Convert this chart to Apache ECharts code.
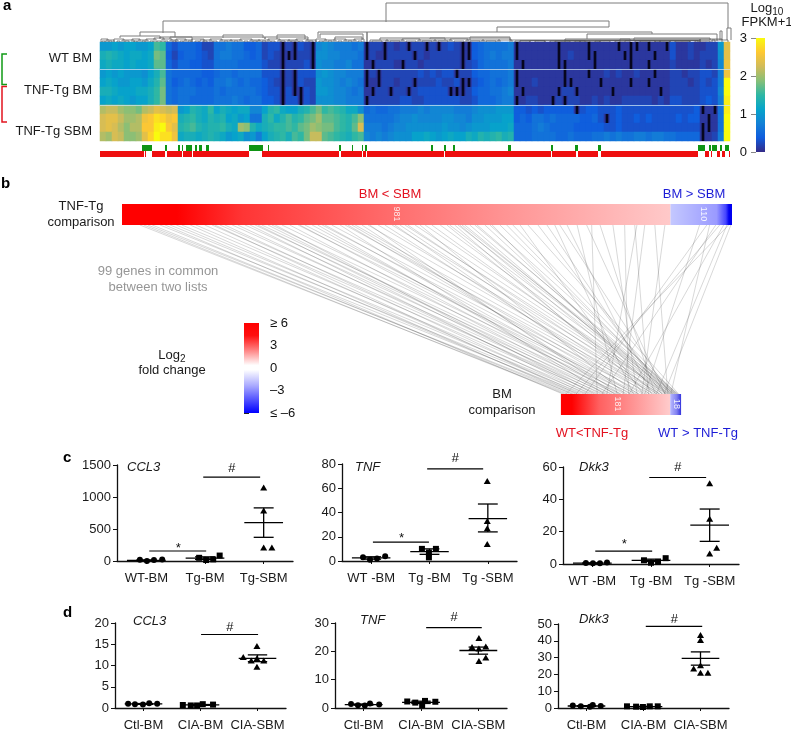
<!DOCTYPE html>
<html><head><meta charset="utf-8">
<style>html,body{margin:0;padding:0;background:#fff}#c{width:791px;height:732px}</style>
<script src="https://cdn.jsdelivr.net/npm/echarts@6/dist/echarts.min.js"></script>
</head><body><div id="c"></div>
<script>
// ---------- a: heat map values, tenths of log10(FPKM+1); -1 = no expression (black) ----------
const heatRow0=[10,10,11,10,11,11,10,10,11,16,15,5,3,5,5,5,4,2,2,6,6,7,6,6,4,4,5,2,3,3,-1,2,-1,3,2,-1,8,9,8,7,7,7,6,7,-1,2,2,-1,2,1,2,-1,2,2,-1,2,-1,2,3,2,-1,-1,4,5,6,6,6,6,7,-1,1,1,1,1,1,1,-1,1,1,1,1,-1,1,1,1,1,-1,1,-1,-1,1,-1,1,1,-1,3,1,1,2,1,1,2,2,10,24];
const heatRow1=[13,14,13,12,11,12,12,11,12,18,17,4,2,4,5,5,4,3,2,6,7,7,6,6,5,4,5,2,3,2,-1,-1,-1,2,2,-1,9,9,8,8,7,7,7,6,-1,2,1,-1,2,2,2,2,-1,2,1,2,2,2,2,2,-1,-1,4,5,6,7,6,7,7,-1,1,1,1,1,1,1,-1,1,2,1,1,-1,-1,1,1,1,1,-1,-1,1,1,1,-1,1,1,3,1,1,2,1,2,2,2,9,24];
const heatRow2=[12,13,12,12,11,12,11,11,12,17,17,5,3,5,5,4,4,3,3,6,6,6,6,5,5,5,5,3,2,2,-1,2,2,2,3,-1,9,8,8,7,7,8,6,6,1,-1,2,2,2,1,-1,2,2,1,2,2,2,2,2,2,-1,2,3,5,6,6,6,6,7,1,-1,1,1,1,1,1,-1,-1,1,1,1,1,-1,1,1,1,1,1,-1,1,1,-1,1,1,1,2,1,1,1,1,2,1,2,8,25];
const heatRow3=[10,11,10,11,10,10,10,9,11,13,16,6,5,5,5,5,5,4,4,5,6,6,5,6,6,6,6,3,3,3,-1,2,-1,3,3,3,9,10,9,8,8,7,7,7,-1,2,-1,2,2,2,2,2,2,3,2,3,2,3,3,-1,2,2,4,5,5,6,6,6,7,-1,1,1,1,1,1,1,1,-1,1,1,1,-1,1,1,2,1,2,1,1,2,1,1,-1,1,1,2,2,1,2,2,3,3,2,7,25];
const heatRow4=[11,12,11,10,10,11,11,10,12,14,17,6,4,5,6,5,4,5,4,6,6,7,6,5,6,5,5,4,3,2,-1,2,-1,3,2,2,10,9,9,8,7,8,7,6,-1,1,-1,2,2,1,2,2,-1,2,2,2,3,2,2,3,-1,-1,3,4,5,6,5,6,7,-1,1,1,2,1,1,1,1,-1,-1,1,1,1,1,-1,1,1,1,1,-1,1,1,-1,1,1,1,2,2,2,1,2,3,2,3,7,30];
const heatRow5=[13,13,12,11,11,11,12,12,13,15,18,6,5,6,6,6,5,5,5,6,5,6,6,6,6,6,5,4,3,3,-1,3,-1,-1,3,2,10,10,9,8,8,7,6,7,1,-1,2,2,-1,2,2,-1,2,3,3,3,3,3,-1,-1,-1,2,4,5,5,6,6,7,8,1,-1,1,1,1,1,1,-1,2,2,-1,1,1,1,1,1,-1,1,1,1,1,1,1,1,-1,1,2,2,2,2,2,3,3,3,8,30];
const heatRow6=[11,12,11,12,11,10,11,11,13,15,18,6,5,6,6,5,5,5,5,6,6,6,7,6,5,6,6,4,4,3,-1,3,3,-1,3,2,9,9,9,8,8,7,7,7,-1,2,2,2,2,2,3,3,2,2,3,3,3,3,3,3,2,2,3,5,5,5,6,7,7,-1,1,2,2,1,1,-1,2,-1,2,2,1,1,2,1,2,1,1,2,2,2,2,2,1,2,1,3,3,2,2,2,3,4,3,7,29];
const heatRow7=[21,22,22,20,19,19,18,21,22,24,23,22,23,10,11,14,13,12,15,11,13,12,11,12,12,8,8,11,14,15,12,11,11,13,14,16,18,15,16,15,14,12,12,9,5,6,5,5,6,6,7,7,7,8,7,8,8,8,8,7,7,7,8,9,9,9,10,10,10,4,4,3,4,3,4,4,4,4,4,-1,3,4,4,3,3,3,4,3,3,3,3,3,3,3,3,3,3,3,3,4,-1,1,-1,6,29];
const heatRow8=[23,24,24,22,20,20,21,25,26,28,27,25,26,13,14,15,13,12,14,13,14,11,12,10,11,6,6,13,15,12,14,16,14,15,17,18,20,17,17,16,15,14,16,19,6,6,6,6,6,7,8,8,9,8,8,8,8,9,9,8,8,7,9,9,10,10,10,11,11,4,5,4,6,6,5,6,5,5,5,5,4,4,5,3,-1,3,4,3,3,4,3,4,3,3,3,3,4,3,4,4,1,-1,1,6,30];
const heatRow9=[23,24,23,21,19,21,21,26,26,29,30,26,24,14,15,16,14,13,14,14,15,13,12,20,19,14,12,13,14,15,15,16,15,17,18,20,19,18,18,16,15,14,17,23,7,7,7,6,7,8,8,9,9,9,9,9,9,10,9,9,8,9,10,10,10,11,11,11,12,5,5,5,6,7,6,5,5,5,5,4,4,4,4,4,3,3,4,3,3,3,3,3,3,3,3,3,3,3,3,3,-1,-1,1,6,30];
const heatRow10=[21,20,23,22,19,19,20,24,27,30,28,28,25,12,13,13,12,13,14,13,12,10,11,12,9,10,7,11,13,14,15,13,16,15,18,22,22,17,16,15,14,13,15,16,8,7,8,7,8,9,9,9,11,11,12,11,10,11,12,11,11,13,12,14,13,14,15,13,14,5,5,5,6,6,6,6,5,5,6,5,5,5,6,6,7,6,7,6,6,7,7,6,7,7,6,6,5,5,5,5,-1,1,2,7,30];
const heatRows=[heatRow0,heatRow1,heatRow2,heatRow3,heatRow4,heatRow5,heatRow6,heatRow7,heatRow8,heatRow9,heatRow10];
const parula=['#352A87','#0F5CDD','#1481D6','#06A4CA','#2EB7A4','#87BF77','#D1BB59','#FEC832','#F9FB0E'];
// dendrogram merges: [x1, x2, height, left leg end, right leg end] on the gene axis
const dendroMain=[[286,628,39,20,14],[63,509,21,9,15],[397,509,15,10,15],[218,552,10,4,8],[267,267,10,0,0],[487,617,8,3,1],[620,622,11,2,2],[627,631,14,2,2],[40,75,10,6,5],[20,60,6,4,3],[60,92,5,4,2],[123,163,7,4,4],[177,205,7,3,3],[165,208,5,3,3],[70,165,5,3,3],[220,263,8,4,3],[235,262,5,3,2],[280,345,4,2,2],[330,410,4,3,2],[370,410,5,2,2],[534,610,4,2,2],[465,530,3,1,1],[520,600,3,1,1]];
const dendroFringe=[[1,8,3],[6,14,2],[14,24,3],[22,34,2],[32,40,3],[38,48,2],[46,56,3],[54,64,4],[62,72,3],[70,78,2],[76,86,3],[84,92,2],[92,104,3],[100,112,2],[110,122,3],[120,132,2],[130,142,2],[140,152,3],[150,160,2],[158,170,2],[168,180,3],[178,190,2],[188,198,2],[196,208,3],[206,216,2],[216,226,3],[224,236,2],[234,246,3],[244,256,2],[254,264,3],[270,288,2],[286,304,2],[302,320,3],[318,336,2],[334,352,2],[350,368,3],[366,384,2],[382,400,2],[398,412,2],[410,480,2],[480,560,2],[560,615,2],[430,520,1.5],[500,600,1.5],[540,590,1],[450,500,1],[600,622,3],[612,628,2],
 [2,5,1],[9,12,1],[17,20,1],[25,29,1],[34,37,1],[42,45,1],[50,53,1],[57,61,1],[65,68,1],[73,76,1],[80,83,1],[88,91,1],[95,99,1],[103,107,1],[113,117,1],[124,128,1],[134,138,1],[144,148,1],[153,157,1],[162,166,1],[171,175,1],[181,185,1],[191,195,1],[199,203,1],[209,213,1],[219,223,1],[228,232,1],[238,242,1],[248,252,1],[258,262,1],
 [272,282,1],[290,300,1],[306,316,1],[322,332,1],[338,348,1],[354,364,1],[370,380,1],[386,396,1],[415,430,1],[435,445,1],[455,470,1],[475,490,1],[495,510,1],[515,530,1],[535,550,1],[555,570,1],[575,590,1],[595,610,1],[420,445,1.5],[465,485,1.5],[525,555,1.5],[570,598,1.5]];
// gene annotation strips on the same gene axis
const geneGreen=[[42,52],[65,67],[78,80],[82,83],[86,92],[95,97],[99,102],[106,109],[149,163],[168,169],[239,241],[252,253],[262,263],[265,267],[331,333],[344,346],[353,355],[408,411],[451,453],[475,478],[498,501],[598,605],[609,611],[612,617],[620,622],[625,629]];
const geneRed=[[0,44],[45,46],[52,65],[67,82],[83,92],[93,149],[162,239],[241,262],[263,266],[267,344],[345,451],[452,476],[478,498],[501,598],[605,609],[611,612],[617,620],[622,625],[629,630]];
// ---------- b ----------
const tnfCounts=[981,110];
const bmCounts=[181,18];
const linkTop=[32,39,46,54,68,77,86,97,107,122,132,148,161,166,175,184,197,207,220,229,238,243,250,261,268,274,286,300,315,318,327,340,350,358,363,375,390,399,404,411,417,429,440,443,458,470,483,488,497,506,511,524,533,542,554,569,581,586,595,601,604,608,613,622,631,635,649,658,662,676,688,699,712,726,744,760,774,783,796,814,831,840,855,878,899,917,921,935,953,971,1033,1046,1051,1062,1069,1076,1082,1085,1089];
const linkBottom=[10,6,20,14,30,3,38,24,45,18,52,33,62,27,70,41,78,58,85,48,92,66,100,74,110,55,118,82,125,96,130,105,90,140,115,148,72,155,122,135,160,98,165,88,170,143,176,128,152,179,163,181,107,184,173,186,158,188,146,190,168,192,183,175,194,187,178,193,162,189,185,191,136,195,174,167,120,180,150,93,172,60,156,126,112,145,76,103,177,134,139,40,182,68,25,113,158,8,171];
const foldTicks={6:'≥ 6',3:'3',0:'0','-3':'–3','-6':'≤ –6'};
// ---------- c, d: points are [x in category bands, value] ----------
const c1Ctl=[[.39,20],[.51,0],[.63,15],[.77,25]], c1Tg=[[1.40,50],[1.52,15],[1.64,25],[1.75,85]], c1Sbm=[[2.5,1150],[2.5,790],[2.5,210],[2.64,210]];
const c1Mean=[10,45,600], c1Low=[3,25,370], c1High=[17,65,830];
const c2Ctl=[[.36,3],[.48,1],[.60,2],[.74,4]], c2Tg=[[1.37,10],[1.49,7],[1.49,3],[1.61,10]], c2Sbm=[[2.49,66],[2.49,33],[2.49,27],[2.49,14]];
const c2Mean=[2.5,7.7,35], c2Low=[1.5,5.5,24], c2High=[3.5,10,47];
const c3Ctl=[[.39,.6],[.51,.4],[.63,.4],[.75,.9]], c3Tg=[[1.38,2.3],[1.50,.8],[1.62,1.3],[1.75,3.6]], c3Sbm=[[2.5,50],[2.5,28],[2.5,6.5],[2.62,10]];
const c3Mean=[.5,2.3,24], c3Low=[.3,1.5,14], c3High=[.7,3,34];
const d1Ctl=[[.23,1],[.35,.9],[.49,.8],[.60,1.1],[.74,1]], d1Tg=[[1.19,.7],[1.33,.6],[1.44,.6],[1.54,.9],[1.72,.8]], d1Sbm=[[2.49,14.6],[2.25,12],[2.39,11.2],[2.61,11.2],[2.49,11.7],[2.49,9.7]];
const d1Mean=[.95,.72,11.7], d1Low=[.85,.62,10.9], d1High=[1.05,.82,12.5];
const d2Ctl=[[.28,1.4],[.40,1],[.52,.9],[.61,1.6],[.77,1.2]], d2Tg=[[1.26,2.3],[1.40,1.9],[1.52,1],[1.57,2.5],[1.75,2.2]], d2Sbm=[[2.51,24.7],[2.39,21.5],[2.63,21.7],[2.51,21],[2.63,17.8],[2.51,16.6]];
const d2Mean=[1.2,2,20.3], d2Low=[1,1.6,19], d2High=[1.4,2.4,21.5];
const d3Ctl=[[.26,1.5],[.40,1],[.56,.8],[.61,1.8],[.75,1.2]], d3Tg=[[1.21,1],[1.37,.8],[1.49,.6],[1.61,1],[1.75,1]], d3Sbm=[[2.5,43.4],[2.5,40.5],[2.5,25.5],[2.38,23.5],[2.5,21],[2.63,21]];
const d3Mean=[1.2,.85,29.5], d3Low=[1,.7,25.5], d3High=[1.4,1,33.4];
// significance: [band from, band to, value of bar, value of mark], with the mark
const c1Sig=[[1.47,2.44,1312,1453,'#'],[.55,1.52,156,190,'*']];
const c2Sig=[[1.46,2.42,76,85,'#'],[.53,1.49,15.5,19,'*']];
const c3Sig=[[1.47,2.44,53.5,60,'#'],[.55,1.52,8,12,'*']];
const d1Sig=[[1.51,2.51,17.3,19,'#']];
const d2Sig=[[1.59,2.56,28.4,32,'#']];
const d3Sig=[[1.54,2.53,48.6,52.5,'#']];
const cLabels=['WT-BM','Tg-BM','Tg-SBM'], cLabelsSp=['WT -BM','Tg -BM','Tg -SBM'], dLabels=['Ctl-BM','CIA-BM','CIA-SBM'];

const FONT='"Liberation Sans",Arial,Helvetica,sans-serif';
const grids=[],xAxes=[],yAxes=[],series=[];
function grid(left,top,width,height){grids.push({left,top,width,height,containLabel:false});return grids.length-1;}
function hiddenVal(g,min,max){return {type:'value',gridIndex:g,min,max,show:false};}
function addX(a){xAxes.push(a);return xAxes.length-1;}
function addY(a){yAxes.push(a);return yAxes.length-1;}
const lin=(x,y,x2,y2,stops)=>new echarts.graphic.LinearGradient(x,y,x2,y2,stops.map((c,i)=>typeof c==='string'?{offset:i/(stops.length-1),color:c}:{offset:c[0],color:c[1]}));

// a heat map
const gHeat=grid(100,42,630,99);
const xHeat=addX({type:'category',gridIndex:gHeat,show:false,data:heatRow0.map((_,i)=>i)});
const yHeat=addY({type:'category',gridIndex:gHeat,show:false,inverse:true,data:heatRows.map((_,i)=>i)});
const heatCells=[],blackCells=[];
heatRows.forEach((r,y)=>r.forEach((v,x)=>{heatCells.push([x,y,v<0?.1:v/10]);if(v<0)blackCells.push([x,y]);}));
series.push({type:'heatmap',xAxisIndex:xHeat,yAxisIndex:yHeat,data:heatCells,silent:true,progressive:0,emphasis:{disabled:true}});
series.push({type:'custom',xAxisIndex:xHeat,yAxisIndex:yHeat,data:blackCells,silent:true,
 renderItem:(p,api)=>{const c=api.coord([api.value(0),api.value(1)]),s=api.size([1,1]);const w=s[0]*.45;
  return {type:'rect',shape:{x:c[0]-w/2,y:c[1]-s[1]/2,width:w,height:s[1]},style:{fill:'#06061e'}};}});

// a dendrogram
const gDen=grid(100,2,630,40);
const xDen=addX(hiddenVal(gDen,0,630)), yDen=addY(hiddenVal(gDen,0,40));
function dendro(data,color,width){
 series.push({type:'custom',xAxisIndex:xDen,yAxisIndex:yDen,silent:true,clip:false,data,
  renderItem:(p,api)=>{const x1=api.value(0),x2=api.value(1),h=api.value(2),l=api.value(3)||0,r=api.value(4)||0;
   return {type:'polyline',shape:{points:[api.coord([x1,l]),api.coord([x1,h]),api.coord([x2,h]),api.coord([x2,r])]},style:{stroke:color,lineWidth:width,fill:null}};}});
}
dendro(dendroMain,'#7d7d7d',1);
dendro(dendroFringe,'#555',.7);

// a annotation strips
const gStrip=grid(100,145,630,12);
const xStrip=addX(hiddenVal(gStrip,0,630));
const yStrip=addY({type:'category',gridIndex:gStrip,show:false,inverse:true,data:['green','red']});
function strip(data,row,color){
 series.push({type:'custom',xAxisIndex:xStrip,yAxisIndex:yStrip,silent:true,data,
  renderItem:(p,api)=>{const a=api.coord([api.value(0),row]),b=api.coord([api.value(1),row]),s=api.size([0,1]);
   return {type:'rect',shape:{x:a[0],y:a[1]-s[1]/2,width:b[0]-a[0],height:s[1]},style:{fill:color}};}});
}
strip(geneGreen,0,'#0f9414');
strip(geneRed,1,'#ee0f0f');

// colour keys
function colourKey(left,top,w,h,min,max,fill,pos,fmt,margin,tickColor){
 const g=grid(left,top,w,h);
 const x=addX(hiddenVal(g,0,1));
 const y=addY({type:'value',gridIndex:g,min,max,interval:pos==='left'?1:3,position:pos,axisLine:{show:false},splitLine:{show:false},
   axisTick:{show:true,length:5,lineStyle:{color:tickColor,width:1}},axisLabel:{color:'#111',fontFamily:FONT,fontSize:13,margin,formatter:fmt}});
 series.push({type:'custom',xAxisIndex:x,yAxisIndex:y,silent:true,data:[[0,1,min,max]],
  renderItem:(p,api)=>{const a=api.coord([0,max]),b=api.coord([1,min]);
   return {type:'rect',shape:{x:a[0],y:a[1],width:b[0]-a[0],height:b[1]-a[1]},style:{fill}};}});
}
colourKey(756,38,9,114,0,3,lin(0,1,0,0,parula),'left',v=>String(v),9,'#888');
colourKey(244,323,15,90,-6,6,lin(0,0,0,1,[[0,'#ff0000'],[.14,'#ff1010'],[.3,'#ff8080'],[.47,'#ffffff'],[.52,'#ffffff'],[.7,'#a8a8ff'],[1,'#0000ff']]),'right',v=>foldTicks[v],11,'#222');

// b bars and links, all on a gene-rank axis of the top list
const gLink=grid(122,204,610,211);
const rankMax=tnfCounts[0]+tnfCounts[1];
const xLink=addX(hiddenVal(gLink,0,rankMax)), yLink=addY(hiddenVal(gLink,0,211));
const bmStart=785, bmScale=1.08;
series.push({type:'lines',coordinateSystem:'cartesian2d',xAxisIndex:xLink,yAxisIndex:yLink,silent:true,
 data:linkTop.map((t,i)=>({coords:[[t,190],[bmStart+linkBottom[i]*bmScale,21]]})),
 lineStyle:{color:'rgba(50,50,50,0.42)',width:.9,curveness:0}});
const barFills=[
 lin(0,0,1,0,[[0,'#ff0000'],[.1,'#ff0000'],[.22,'#ff3535'],[.5,'#ff6e6e'],[.7,'#ff9494'],[1,'#ffc9c9']]),
 lin(0,0,1,0,[[0,'#c4c8ff'],[.75,'#9a9aff'],[.9,'#4444ff'],[.95,'#0000f0'],[1,'#0000f0']]),
 lin(0,0,1,0,[[0,'#ff0000'],[.1,'#ff0000'],[.35,'#ff6060'],[.7,'#ff9a9a'],[1,'#ffcccc']]),
 lin(0,0,1,0,[[0,'#b8b8ff'],[.6,'#8080f0'],[1,'#3333dd']])];
series.push({type:'custom',xAxisIndex:xLink,yAxisIndex:yLink,silent:true,z:5,
 data:[[0,tnfCounts[0],190,211,0],[tnfCounts[0],rankMax,190,211,1],
  [bmStart,bmStart+bmCounts[0]*bmScale,0,21,2],[bmStart+bmCounts[0]*bmScale,bmStart+(bmCounts[0]+bmCounts[1])*bmScale,0,21,3]],
 renderItem:(p,api)=>{const a=api.coord([api.value(0),api.value(3)]),b=api.coord([api.value(1),api.value(2)]);
  return {type:'rect',shape:{x:a[0],y:a[1],width:b[0]-a[0],height:b[1]-a[1]},style:{fill:barFills[api.value(4)]}};}});

// c, d scatter panels
function panel(left,top,width,height,ymax,yint,labels,ctl,tg,sbm,mean,low,high,sig){
 const g=grid(left,top,width,height);
 const axisLine={show:true,lineStyle:{color:'#111',width:1.3}};
 addX({type:'category',gridIndex:g,position:'bottom',data:labels,boundaryGap:true,axisLine,
   axisTick:{show:true,alignWithLabel:true,length:3,lineStyle:{color:'#111'}},axisLabel:{color:'#1a1a1a',fontFamily:FONT,fontSize:13,margin:11,interval:0}});
 const x=addX({type:'value',gridIndex:g,position:'bottom',min:0,max:3,show:false});
 const y=addY({type:'value',gridIndex:g,min:0,max:ymax,interval:yint,axisLine,splitLine:{show:false},
   axisTick:{show:true,length:4,lineStyle:{color:'#111'}},axisLabel:{color:'#1a1a1a',fontFamily:FONT,fontSize:13,margin:6,formatter:v=>String(v)}});
 const sc=(data,symbol,symbolSize)=>series.push({type:'scatter',xAxisIndex:x,yAxisIndex:y,data,symbol,symbolSize,silent:true,clip:false,itemStyle:{color:'#000',opacity:1}});
 sc(ctl,'circle',6);sc(tg,'rect',6);sc(sbm,'triangle',[7,6]);
 series.push({type:'custom',xAxisIndex:x,yAxisIndex:y,silent:true,clip:false,
  data:mean.map((m,i)=>[i+.5,m,low[i],high[i]]),
  renderItem:(p,api)=>{const c=api.value(0),m=api.value(1),lo=api.value(2),hi=api.value(3);
   const seg=(x1,y1,x2,y2)=>{const a=api.coord([x1,y1]),b=api.coord([x2,y2]);return {type:'line',shape:{x1:a[0],y1:a[1],x2:b[0],y2:b[1]},style:{stroke:'#000',lineWidth:1.3}};};
   return {type:'group',children:[seg(c-.33,m,c+.33,m),seg(c-.17,lo,c+.17,lo),seg(c-.17,hi,c+.17,hi),seg(c,lo,c,hi)]};}});
 series.push({type:'custom',xAxisIndex:x,yAxisIndex:y,silent:true,clip:false,
  data:sig.map(s=>s.slice(0,4)),
  renderItem:(p,api)=>{const a=api.coord([api.value(0),api.value(2)]),b=api.coord([api.value(1),api.value(2)]),t=api.coord([(api.value(0)+api.value(1))/2,api.value(3)]);
   return {type:'group',children:[{type:'line',shape:{x1:a[0],y1:a[1],x2:b[0],y2:b[1]},style:{stroke:'#000',lineWidth:1.2}},
    {type:'text',style:{text:sig[p.dataIndex][4],x:t[0],y:t[1],textAlign:'center',textVerticalAlign:'middle',fill:'#111',font:'italic 13px '+FONT}}]};}});
}
panel(117,465,176,96,1500,500,cLabels,c1Ctl,c1Tg,c1Sbm,c1Mean,c1Low,c1High,c1Sig);
panel(342,464,175,97,80,20,cLabelsSp,c2Ctl,c2Tg,c2Sbm,c2Mean,c2Low,c2High,c2Sig);
panel(563,467,176,97,60,20,cLabelsSp,c3Ctl,c3Tg,c3Sbm,c3Mean,c3Low,c3High,c3Sig);
panel(115,623,171,89,20,5,dLabels,d1Ctl,d1Tg,d1Sbm,d1Mean,d1Low,d1High,d1Sig);
panel(335,623,172,89,30,10,dLabels,d2Ctl,d2Tg,d2Sbm,d2Mean,d2Low,d2High,d2Sig);
panel(558,624,171,88,50,10,dLabels,d3Ctl,d3Tg,d3Sbm,d3Mean,d3Low,d3High,d3Sig);

// static text and furniture
function T(text,x,y,opt){opt=opt||{};return {type:'text',x:opt.rot?x:0,y:opt.rot?y:0,rotation:opt.rot||0,z:20,silent:true,
 style:Object.assign({text,x:opt.rot?0:x,y:opt.rot?0:y,textAlign:opt.align||'center',textVerticalAlign:'middle',fill:opt.color||'#1a1a1a',
  font:(opt.style||'')+' '+(opt.size||13)+'px '+FONT},opt.rich?{rich:opt.rich}:{})};}
const RED='#e3111f',BLUE='#1c1cd6',GRAY='#969696';
const sub={s:{fontSize:10,fontFamily:FONT,fill:'#1a1a1a',verticalAlign:'bottom',padding:[9,0,0,0]}};
const graphics=[
 T('a',3,6,{style:'bold',size:15,align:'left',color:'#000'}),T('b',1,184,{style:'bold',size:15,align:'left',color:'#000'}),
 T('c',63,458,{style:'bold',size:15,align:'left',color:'#000'}),T('d',63,613,{style:'bold',size:15,align:'left',color:'#000'}),
 T('WT BM',92,58,{align:'right'}),T('TNF-Tg BM',92,90,{align:'right'}),T('TNF-Tg SBM',92,131,{align:'right'}),
 T('Log{s|10}',767,8,{rich:sub}),T('FPKM+1',767,22),
 T('TNF-Tg',81,206),T('comparison',81,222),T('BM < SBM',390,194,{color:RED}),T('BM > SBM',694,194,{color:BLUE}),
 T('99 genes in common',158,271,{color:GRAY}),T('between two lists',158,287,{color:GRAY}),
 T('Log{s|2}',172,355,{rich:sub}),T('fold change',172,370),
 T('BM',502,394),T('comparison',502,410),T('WT<TNF-Tg',592,433,{color:RED}),T('WT > TNF-Tg',698,433,{color:BLUE}),
 T(String(tnfCounts[0]),396,214,{rot:-Math.PI/2,size:9,color:'rgba(255,255,255,.85)'}),
 T(String(tnfCounts[1]),703,214,{rot:-Math.PI/2,size:9,color:'rgba(255,255,255,.9)'}),
 T(String(bmCounts[0]),617,404,{rot:-Math.PI/2,size:9,color:'rgba(255,255,255,.85)'}),
 T(String(bmCounts[1]),676,404,{rot:-Math.PI/2,size:9,color:'rgba(255,255,255,.9)'}),
 T('CCL3',127,467,{style:'italic',align:'left'}),T('TNF',355,467,{style:'italic',align:'left'}),T('Dkk3',579,467,{style:'italic',align:'left'}),
 T('CCL3',133,621,{style:'italic',align:'left'}),T('TNF',360,620,{style:'italic',align:'left'}),T('Dkk3',579,619,{style:'italic',align:'left'}),
 {type:'polyline',z:20,silent:true,shape:{points:[[7,54],[2,54],[2,84.5],[7,84.5]]},style:{stroke:'#109a16',lineWidth:1.5,fill:null}},
 {type:'polyline',z:20,silent:true,shape:{points:[[7,86.5],[2,86.5],[2,122],[7,122]]},style:{stroke:'#e2151f',lineWidth:1.5,fill:null}},
 {type:'line',z:20,silent:true,shape:{x1:100,y1:69.5,x2:730,y2:69.5},style:{stroke:'rgba(205,225,240,.75)',lineWidth:1}},
 {type:'line',z:20,silent:true,shape:{x1:100,y1:105.5,x2:730,y2:105.5},style:{stroke:'rgba(205,225,240,.75)',lineWidth:1}}
];

const chart=echarts.init(document.getElementById('c'));
chart.setOption({animation:false,backgroundColor:'#fff',textStyle:{fontFamily:FONT},
 grid:grids,xAxis:xAxes,yAxis:yAxes,series,
 visualMap:[{type:'continuous',show:false,seriesIndex:0,min:0,max:3,inRange:{color:parula}}],
 graphic:{elements:graphics}});
</script></body></html>
